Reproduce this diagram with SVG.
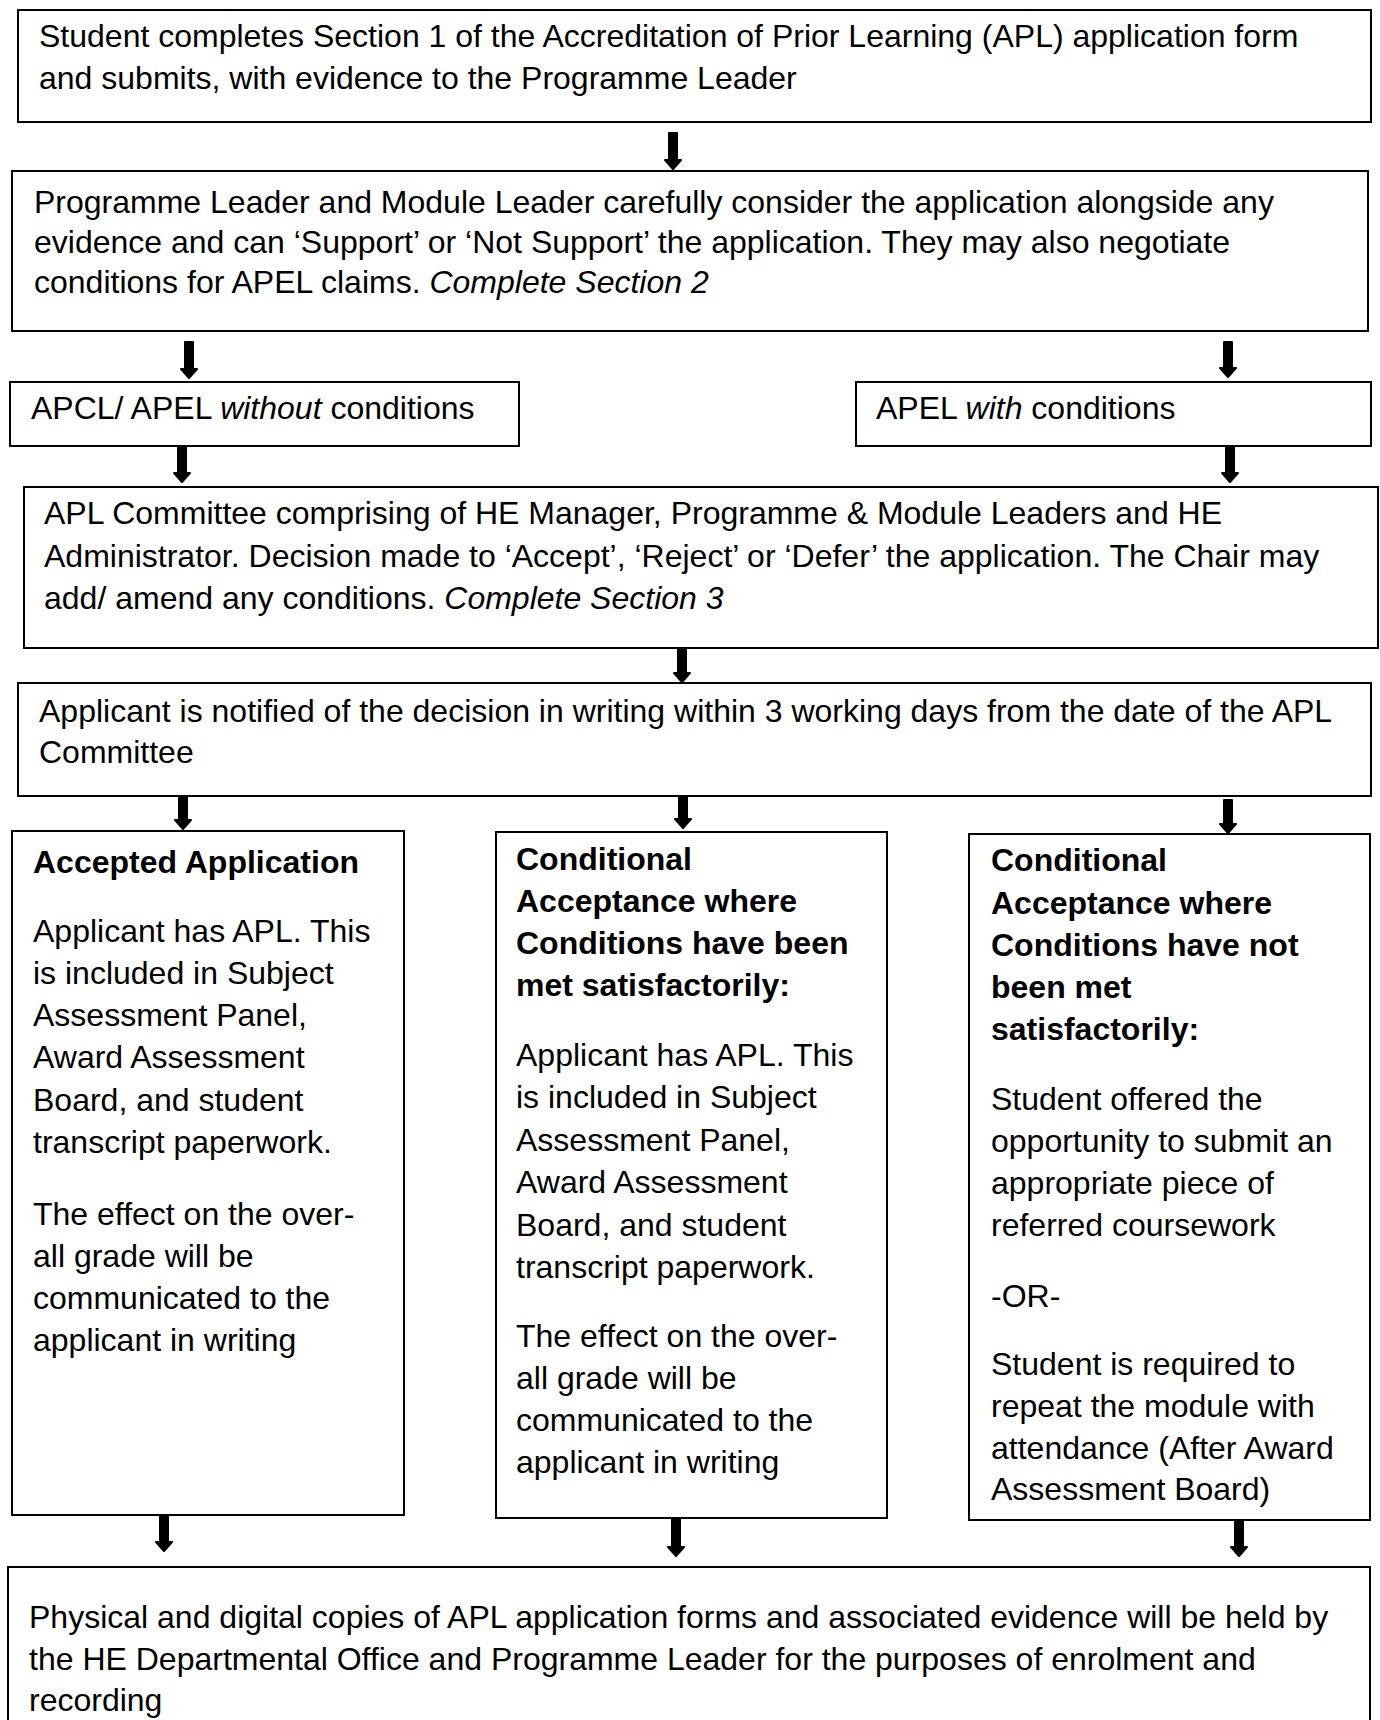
<svg xmlns="http://www.w3.org/2000/svg" width="1380" height="1720" viewBox="0 0 1380 1720">
<style>
.box{fill:#fff;stroke:#000;stroke-width:2}
text{font-family:"Liberation Sans",Arial,sans-serif;font-size:32px;fill:#000}
.b{font-weight:bold}
.i{font-style:italic}
.arr{fill:#000;stroke:#000;stroke-width:2;stroke-linejoin:round}
</style>
<rect width="1380" height="1720" fill="#fff"/>
<g id="connectors">
<path class="arr" d="M669,133 L677,133 L677,160 L681,160 L673,169 L665,160 L669,160 Z"/>
<path class="arr" d="M185,342 L193,342 L193,369 L197,369 L189,378 L181,369 L185,369 Z"/>
<path class="arr" d="M1224,342 L1232,342 L1232,368 L1236,368 L1228,377 L1220,368 L1224,368 Z"/>
<path class="arr" d="M178,447 L186,447 L186,473 L190,473 L182,482 L174,473 L178,473 Z"/>
<path class="arr" d="M1226,447 L1234,447 L1234,473 L1238,473 L1230,482 L1222,473 L1226,473 Z"/>
<path class="arr" d="M678,647 L686,647 L686,673 L690,673 L682,682 L674,673 L678,673 Z"/>
<path class="arr" d="M179,796 L187,796 L187,820 L191,820 L183,829 L175,820 L179,820 Z"/>
<path class="arr" d="M679,796 L687,796 L687,819 L691,819 L683,828 L675,819 L679,819 Z"/>
<path class="arr" d="M1224,800 L1232,800 L1232,824 L1236,824 L1228,833 L1220,824 L1224,824 Z"/>
<path class="arr" d="M160,1515 L168,1515 L168,1542 L172,1542 L164,1551 L156,1542 L160,1542 Z"/>
<path class="arr" d="M672,1519 L680,1519 L680,1547 L684,1547 L676,1556 L668,1547 L672,1547 Z"/>
<path class="arr" d="M1235,1521 L1243,1521 L1243,1547 L1247,1547 L1239,1556 L1231,1547 L1235,1547 Z"/>
</g>
<g id="n1">
<rect class="box" x="18" y="10" width="1353" height="112"/>
<text x="39" y="47">Student completes Section 1 of the Accreditation of Prior Learning (APL) application form</text>
<text x="39" y="89">and submits, with evidence to the Programme Leader</text>
</g>
<g id="n2">
<rect class="box" x="12" y="171" width="1356" height="160"/>
<text x="34" y="213">Programme Leader and Module Leader carefully consider the application alongside any</text>
<text x="34" y="253">evidence and can ‘Support’ or ‘Not Support’ the application. They may also negotiate</text>
<text x="34" y="293">conditions for APEL claims. <tspan class="i">Complete Section 2</tspan></text>
</g>
<g id="n3a">
<rect class="box" x="10" y="382" width="509" height="64"/>
<text x="31" y="419">APCL/ APEL <tspan class="i">without</tspan> conditions</text>
</g>
<g id="n3b">
<rect class="box" x="856" y="382" width="515" height="64"/>
<text x="876" y="419">APEL <tspan class="i">with</tspan> conditions</text>
</g>
<g id="n4">
<rect class="box" x="24" y="487" width="1354" height="161"/>
<text x="44" y="524">APL Committee comprising of HE Manager, Programme &amp; Module Leaders and HE</text>
<text x="44" y="567">Administrator. Decision made to ‘Accept’, ‘Reject’ or ‘Defer’ the application. The Chair may</text>
<text x="44" y="609">add/ amend any conditions. <tspan class="i">Complete Section 3</tspan></text>
</g>
<g id="n5">
<rect class="box" x="18" y="683" width="1353" height="113"/>
<text x="39" y="722">Applicant is notified of the decision in writing within 3 working days from the date of the APL</text>
<text x="39" y="763">Committee</text>
</g>
<g id="n6a">
<rect class="box" x="12" y="831" width="392" height="684"/>
<text x="33" y="873" class="b">Accepted Application</text>
<text x="33" y="942">Applicant has APL. This</text>
<text x="33" y="984">is included in Subject</text>
<text x="33" y="1026">Assessment Panel,</text>
<text x="33" y="1068">Award Assessment</text>
<text x="33" y="1111">Board, and student</text>
<text x="33" y="1153">transcript paperwork.</text>
<text x="33" y="1225">The effect on the over-</text>
<text x="33" y="1267">all grade will be</text>
<text x="33" y="1309">communicated to the</text>
<text x="33" y="1351">applicant in writing</text>
</g>
<g id="n6b">
<rect class="box" x="496" y="832" width="391" height="686"/>
<text x="516" y="870" class="b">Conditional</text>
<text x="516" y="912" class="b">Acceptance where</text>
<text x="516" y="954" class="b">Conditions have been</text>
<text x="516" y="996" class="b">met satisfactorily:</text>
<text x="516" y="1066">Applicant has APL. This</text>
<text x="516" y="1108">is included in Subject</text>
<text x="516" y="1151">Assessment Panel,</text>
<text x="516" y="1193">Award Assessment</text>
<text x="516" y="1236">Board, and student</text>
<text x="516" y="1278">transcript paperwork.</text>
<text x="516" y="1347">The effect on the over-</text>
<text x="516" y="1389">all grade will be</text>
<text x="516" y="1431">communicated to the</text>
<text x="516" y="1473">applicant in writing</text>
</g>
<g id="n6c">
<rect class="box" x="969" y="834" width="401" height="686"/>
<text x="991" y="871" class="b">Conditional</text>
<text x="991" y="914" class="b">Acceptance where</text>
<text x="991" y="956" class="b">Conditions have not</text>
<text x="991" y="998" class="b">been met</text>
<text x="991" y="1040" class="b">satisfactorily:</text>
<text x="991" y="1110">Student offered the</text>
<text x="991" y="1152">opportunity to submit an</text>
<text x="991" y="1194">appropriate piece of</text>
<text x="991" y="1236">referred coursework</text>
<text x="991" y="1307">-OR-</text>
<text x="991" y="1375">Student is required to</text>
<text x="991" y="1417">repeat the module with</text>
<text x="991" y="1459">attendance (After Award</text>
<text x="991" y="1500">Assessment Board)</text>
</g>
<g id="n7">
<rect class="box" x="8" y="1567" width="1362" height="172"/>
<text x="29" y="1628">Physical and digital copies of APL application forms and associated evidence will be held by</text>
<text x="29" y="1670">the HE Departmental Office and Programme Leader for the purposes of enrolment and</text>
<text x="29" y="1711">recording</text>
</g>
</svg>
